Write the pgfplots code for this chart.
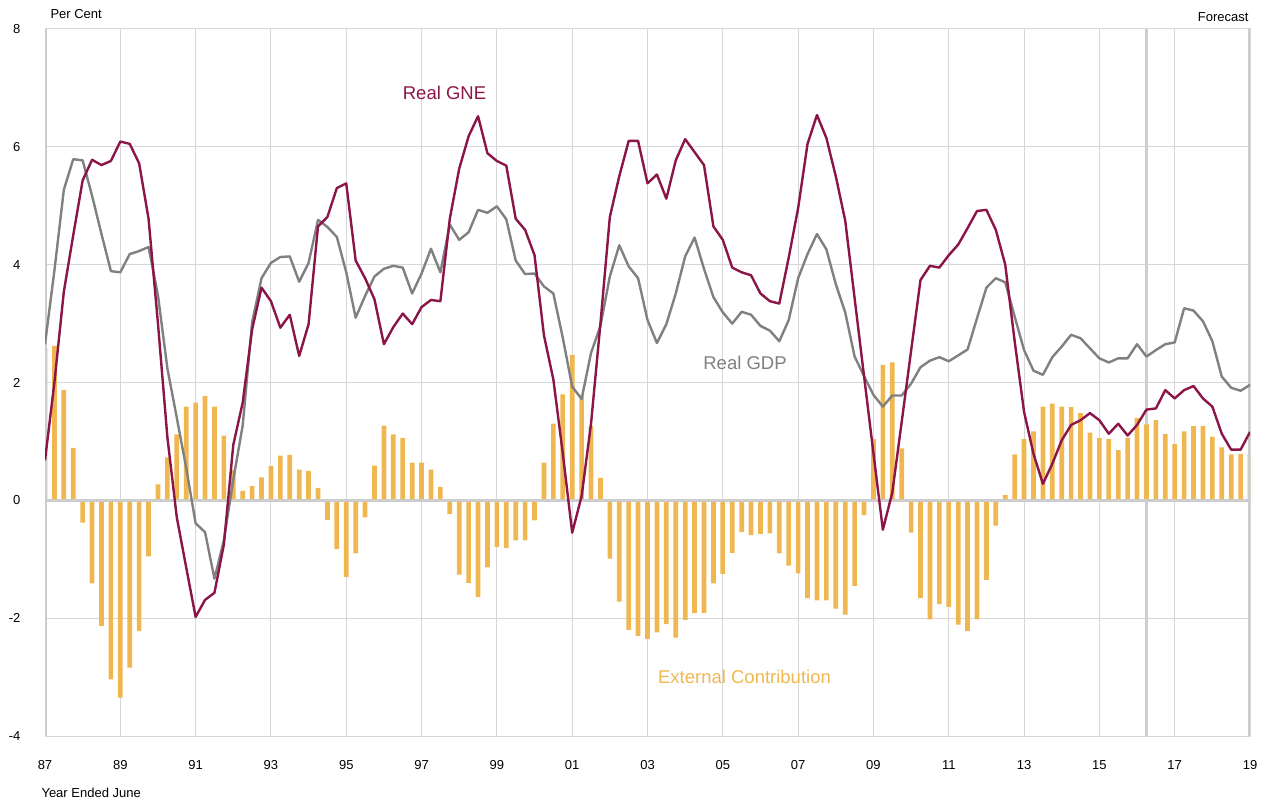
\documentclass[border=0pt]{standalone}
\usepackage{pgfplots}
\pgfplotsset{compat=1.18}
\usepackage{pgfplotstable}
\usepackage{fontspec}
\setmainfont{Liberation Sans}
\definecolor{gnec}{RGB}{139,21,72}
\definecolor{gdpc}{RGB}{128,128,128}
\definecolor{barc}{RGB}{240,183,80}
\definecolor{gridc}{RGB}{215,215,215}
\definecolor{thickc}{RGB}{205,205,205}
\pgfplotstableread{
i ext gne gdp
0 2.58 0.68 2.65
1 2.62 2.00 3.90
2 1.87 3.54 5.27
3 0.89 4.50 5.79
4 -0.38 5.43 5.77
5 -1.41 5.78 5.17
6 -2.13 5.69 4.52
7 -3.04 5.76 3.89
8 -3.35 6.09 3.87
9 -2.84 6.05 4.18
10 -2.22 5.72 4.23
11 -0.95 4.78 4.30
12 0.27 3.00 3.48
13 0.73 1.07 2.24
14 1.12 -0.29 1.40
15 1.59 -1.14 0.55
16 1.66 -1.98 -0.39
17 1.77 -1.69 -0.54
18 1.59 -1.57 -1.33
19 1.10 -0.75 -0.68
20 0.52 0.94 0.35
21 0.16 1.66 1.27
22 0.24 2.90 3.02
23 0.39 3.61 3.77
24 0.58 3.38 4.03
25 0.76 2.93 4.13
26 0.77 3.15 4.14
27 0.52 2.45 3.71
28 0.50 2.99 4.03
29 0.21 4.65 4.76
30 -0.33 4.81 4.64
31 -0.83 5.30 4.47
32 -1.30 5.38 3.87
33 -0.90 4.07 3.10
34 -0.29 3.77 3.47
35 0.59 3.41 3.80
36 1.27 2.65 3.93
37 1.12 2.94 3.98
38 1.06 3.17 3.95
39 0.64 2.99 3.51
40 0.64 3.28 3.85
41 0.52 3.40 4.27
42 0.23 3.38 3.87
43 -0.23 4.78 4.68
44 -1.26 5.63 4.42
45 -1.40 6.18 4.55
46 -1.64 6.52 4.93
47 -1.14 5.89 4.88
48 -0.79 5.76 4.99
49 -0.81 5.68 4.77
50 -0.68 4.78 4.07
51 -0.68 4.59 3.84
52 -0.34 4.16 3.85
53 0.64 2.80 3.63
54 1.30 2.05 3.51
55 1.80 0.80 2.76
56 2.47 -0.55 1.93
57 1.78 0.07 1.72
58 1.26 1.30 2.50
59 0.38 3.00 2.96
60 -0.99 4.81 3.80
61 -1.72 5.50 4.33
62 -2.20 6.10 3.97
63 -2.30 6.10 3.77
64 -2.35 5.38 3.06
65 -2.24 5.53 2.67
66 -2.10 5.12 2.99
67 -2.33 5.77 3.51
68 -2.03 6.13 4.14
69 -1.91 5.91 4.46
70 -1.91 5.69 3.93
71 -1.41 4.65 3.45
72 -1.25 4.42 3.19
73 -0.89 3.95 3.00
74 -0.54 3.87 3.20
75 -0.59 3.82 3.15
76 -0.57 3.51 2.96
77 -0.56 3.38 2.88
78 -0.90 3.34 2.70
79 -1.11 4.12 3.06
80 -1.24 4.96 3.77
81 -1.66 6.05 4.18
82 -1.70 6.54 4.52
83 -1.70 6.15 4.26
84 -1.84 5.50 3.67
85 -1.94 4.75 3.19
86 -1.45 3.43 2.44
87 -0.25 2.11 2.11
88 1.04 0.80 1.79
89 2.30 -0.50 1.59
90 2.34 0.13 1.78
91 0.88 1.33 1.78
92 -0.55 2.54 1.98
93 -1.66 3.74 2.26
94 -2.02 3.98 2.37
95 -1.76 3.95 2.43
96 -1.81 4.16 2.36
97 -2.11 4.34 2.46
98 -2.22 4.62 2.56
99 -2.02 4.91 3.09
100 -1.35 4.93 3.61
101 -0.43 4.59 3.77
102 0.09 4.00 3.70
103 0.78 2.70 3.12
104 1.04 1.50 2.55
105 1.17 0.79 2.20
106 1.59 0.28 2.13
107 1.64 0.62 2.43
108 1.59 1.02 2.61
109 1.58 1.28 2.81
110 1.48 1.36 2.75
111 1.15 1.48 2.58
112 1.06 1.36 2.41
113 1.04 1.13 2.34
114 0.85 1.30 2.41
115 1.06 1.10 2.41
116 1.40 1.28 2.65
117 1.29 1.54 2.44
118 1.36 1.56 2.55
119 1.13 1.87 2.65
120 0.96 1.73 2.68
121 1.17 1.87 3.26
122 1.26 1.94 3.22
123 1.26 1.73 3.04
124 1.08 1.59 2.70
125 0.90 1.13 2.10
126 0.78 0.86 1.91
127 0.79 0.86 1.86
128 0.78 1.16 1.96
}\data
\begin{document}
\begin{tikzpicture}
\path[use as bounding box] (0pt,0pt) rectangle (1265pt,803pt);
\begin{axis}[
  at={(45pt,67pt)}, anchor=south west,
  width=1205pt, height=707pt, scale only axis,
  xmin=0, xmax=128, ymin=-4, ymax=8,
  xtick={0,8,...,128},
  xticklabels={87,89,91,93,95,97,99,01,03,05,07,09,11,13,15,17,19},
  ytick={-4,-2,...,8},
  yticklabels={-4,-2,0,2,4,6,8},
  grid=major,
  major grid style={color=gridc, line width=1pt},
  tick style={draw=none},
  axis line style={color=gridc, line width=1pt},
  ticklabel style={font=\fontsize{13}{15}\selectfont, text=black},
  xticklabel style={yshift=-21pt},
  yticklabel style={anchor=east, xshift=-21pt},
  clip=true,
]
\addplot[thickc, line width=2.6pt, forget plot] coordinates {(117,-4) (117,8)};
\addplot[ybar, bar width=4.7pt, fill=barc, draw=none] table[x=i, y=ext] {\data};
\addplot[thickc, line width=2.6pt] coordinates {(0,0) (128,0)};
\addplot[thickc, line width=3pt] coordinates {(0,-4) (0,8)};
\addplot[thickc, line width=4pt] coordinates {(128,-4) (128,8)};
\addplot[gdpc, line width=2.4pt, line join=round] table[x=i, y=gdp] {\data};
\addplot[gnec, line width=2.4pt, line join=round] table[x=i, y=gne] {\data};
\end{axis}
\node[anchor=base west, font=\fontsize{13}{15}\selectfont] at (47pt,784pt) {Per Cent};
\node[anchor=base east, font=\fontsize{13}{15}\selectfont] at (1252pt,781pt) {Forecast};
\node[anchor=base west, font=\fontsize{13}{15}\selectfont] at (38pt,6pt) {Year Ended June};
\node[anchor=base, text=gnec, font=\fontsize{18.5}{22}\selectfont] at (444.5pt,703.5pt) {Real GNE};
\node[anchor=base, text=gdpc, font=\fontsize{18.5}{22}\selectfont] at (745pt,433.4pt) {Real GDP};
\node[anchor=base, text=barc, font=\fontsize{18.5}{22}\selectfont] at (744.5pt,119.4pt) {External Contribution};
\end{tikzpicture}
\end{document}
